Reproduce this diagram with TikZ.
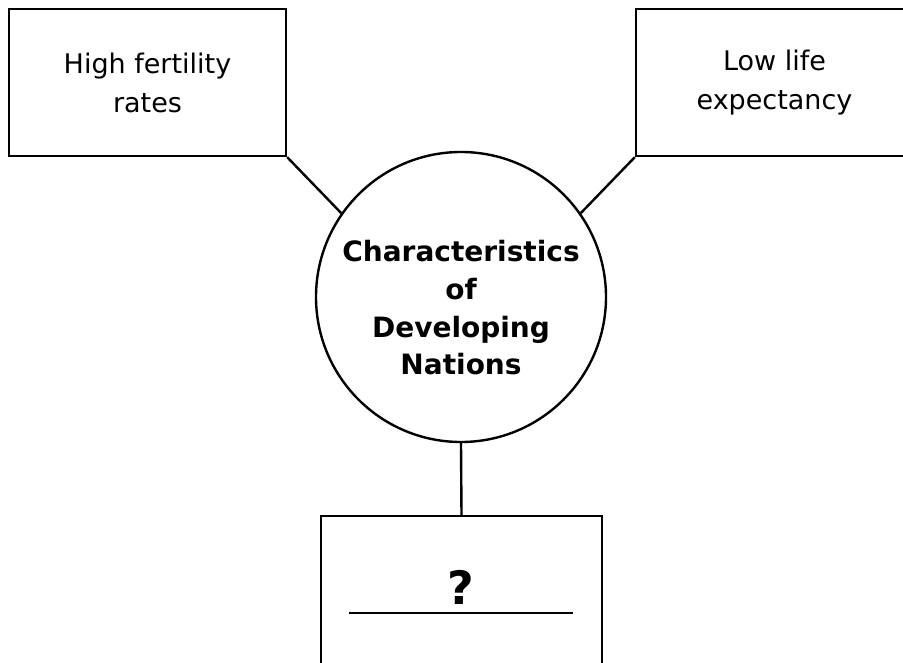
\documentclass[tikz,border=0pt]{standalone}
\usepackage{fontspec}
\setmainfont{DejaVu Sans}
\begin{document}
\begin{tikzpicture}[x=1pt,y=-1pt,line width=2.4pt]

        \clip (0,0) rectangle (903,663);

        \begin{scope}[every node/.style={draw,rectangle,minimum width=277pt,minimum height=147pt,
            align=center,font=\fontsize{27}{39}\selectfont}]
          \node (fert) at (147.5,82.5) {High fertility\\rates};
          \node (life) at (774.5,82.5) {Low life\\expectancy};
          \node[minimum width=281pt,minimum height=200pt] (gap) at (461.5,616) {};
        \end{scope}

        \node[draw,circle,minimum size=290pt,inner sep=0pt] (hub) at (461,297) {};
        \node[align=center,font=\fontsize{28}{37.7}\selectfont\bfseries] (title) at (461,308)
          {Characteristics\\of\\Developing\\Nations};

        \node[font=\fontsize{46}{50}\selectfont\bfseries] (ask) at (461,587) {?};
        \coordinate (ulL) at (349,613);
        \coordinate (ulR) at (573,613);

        \begin{scope}[every edge/.style={draw}]
          \path (fert.south east) edge (hub.145);
          \path (life.south west) edge (hub.35);
          \path (hub.south) edge (gap.north);
          \path (ulL) edge (ulR);
        \end{scope}

      \end{tikzpicture}
\end{document}
